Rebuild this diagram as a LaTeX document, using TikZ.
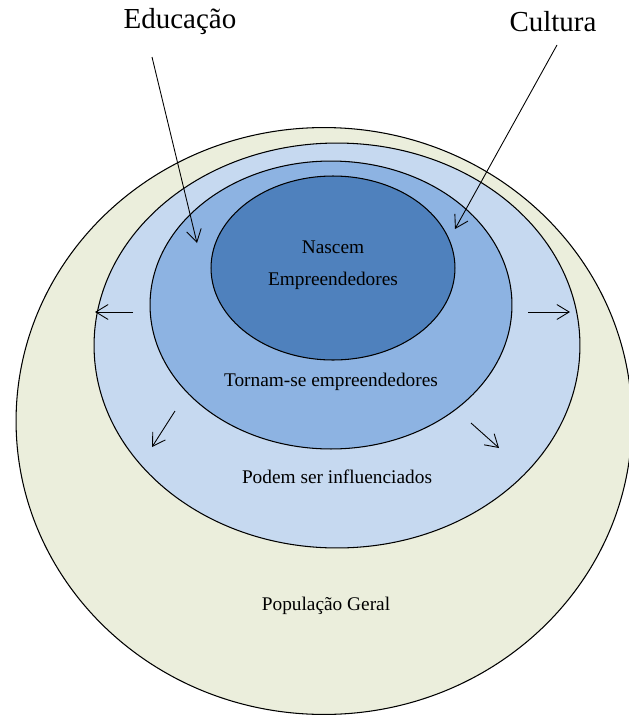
\documentclass[tikz,border=0pt]{standalone}
\usepackage{fontspec}
\setmainfont{Liberation Serif}
\usetikzlibrary{shapes.geometric}
\usetikzlibrary{arrows.meta}

\definecolor{geral}{HTML}{EBEEDC}
\definecolor{influ}{HTML}{C6D9F0}
\definecolor{torna}{HTML}{8DB3E2}
\definecolor{nasce}{HTML}{4F81BD}

\begin{document}
\begin{tikzpicture}[x=0.02cm,y=-0.02cm,
   ring/.style={draw,ellipse,line width=0.6pt,inner sep=0pt},
   lbl/.style={font=\fontsize{11}{13}\selectfont},
   big/.style={font=\fontsize{16.5}{19}\selectfont},
   seta/.style={-{Straight Barb[length=7pt,width=8.5pt]},line width=0.5pt}]
\useasboundingbox (0,0) rectangle (629,717);
% aneis
\node[ring,fill=geral,minimum width=12.32cm,minimum height=11.74cm] (pop) at (324,421) {};
\node[ring,fill=influ,minimum width=9.72cm,minimum height=8.1cm] (infl) at (337,345.5) {};
\node[ring,fill=torna,minimum width=7.24cm,minimum height=5.76cm] (torn) at (331,305) {};
\node[ring,fill=nasce,minimum width=4.88cm,minimum height=3.68cm] (nasc) at (333,268) {};
% textos
\node[lbl] (t1) at (333,247) {Nascem};
\node[lbl] (t2) at (333,281) {Empreendedores};
\node[lbl] (t3) at (331,382) {Tornam-se empreendedores};
\node[lbl] (t4) at (337,477) {Podem ser influenciados};
\node[lbl] (t5) at (326,606) {População Geral};
\node[big] (edu) at (180,22) {Educação};
\node[big] (cul) at (553,22) {Cultura};
% setas
\coordinate (e1) at (152,57);
\coordinate (e2) at (197,243);
\coordinate (c1) at (557,45);
\coordinate (c2) at (455,229);
\draw[seta] (e1) -- (e2);
\draw[seta] (c1) -- (c2);
\coordinate (l1) at (133,312);
\coordinate (l2) at (95,312);
\coordinate (r1) at (528,312);
\coordinate (r2) at (570,312);
\coordinate (dl1) at (175,411);
\coordinate (dl2) at (152,447);
\coordinate (dr1) at (471,423);
\coordinate (dr2) at (499,448);
\foreach \a/\b in {l1/l2,r1/r2,dl1/dl2,dr1/dr2}
   \draw[seta] (\a) -- (\b);
\end{tikzpicture}
\end{document}
